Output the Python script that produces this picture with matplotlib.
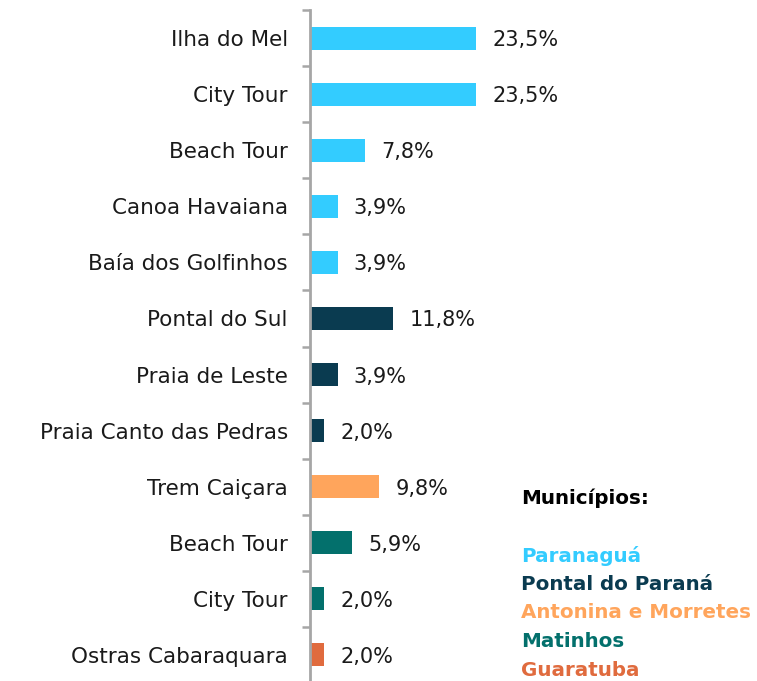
import matplotlib
matplotlib.use("Agg")
import matplotlib.pyplot as plt

# data
categories = [
    "Ilha do Mel", "City Tour", "Beach Tour", "Canoa Havaiana", "Baía dos Golfinhos",
    "Pontal do Sul", "Praia de Leste", "Praia Canto das Pedras",
    "Trem Caiçara",
    "Beach Tour", "City Tour",
    "Ostras Cabaraquara",
]
values = [23.5, 23.5, 7.8, 3.9, 3.9, 11.8, 3.9, 2.0, 9.8, 5.9, 2.0, 2.0]
municipio = [0, 0, 0, 0, 0, 1, 1, 1, 2, 3, 3, 4]
municipios = ["Paranaguá", "Pontal do Paraná", "Antonina e Morretes", "Matinhos", "Guaratuba"]
colors = ["#33CCFF", "#0A3B50", "#FFA55C", "#03706C", "#E06B3E"]

plt.rcParams["font.family"] = ["DejaVu Sans"]

fig = plt.figure(figsize=(7.57, 6.81), dpi=100)
ax = fig.add_axes([310 / 757, -2 / 681, 447 / 757, 673 / 681])

n = len(categories)
ys = list(range(n))
bar_colors = [colors[m] for m in municipio]
ax.barh(ys, values, height=0.41, color=bar_colors)

for y, v in zip(ys, values):
    ax.text(v + 2.3, y, f"{v:.1f}%".replace(".", ","), va="center_baseline", ha="left",
            fontsize=15, color="#1a1a1a")

ax.set_ylim(n - 0.5, -0.5)
ax.set_xlim(0, 63.3)
ax.set_yticks(ys)
ax.set_yticklabels(categories, fontsize=15.5, color="#1a1a1a")
ax.tick_params(axis="y", which="major", length=0, pad=16)
ax.set_yticks([i - 0.5 for i in range(n + 1)], minor=True)
ax.tick_params(axis="y", which="minor", length=6, width=1.8, color="#A6A6A6")
ax.set_xticks([])
for side in ["top", "right", "bottom"]:
    ax.spines[side].set_visible(False)
ax.spines["left"].set_color("#A6A6A6")
ax.spines["left"].set_linewidth(2)

fig.text(521 / 757, 1 - 498 / 681, "Municípios:", fontsize=14.3, fontweight="bold",
         color="black", va="center", ha="left")
for i, (name, c) in enumerate(zip(municipios, colors)):
    fig.text(521 / 757, 1 - (556 + 28.5 * i) / 681, name, fontsize=14.3, fontweight="bold",
             color=c, va="center", ha="left")

fig.savefig("out.png", dpi=100)
